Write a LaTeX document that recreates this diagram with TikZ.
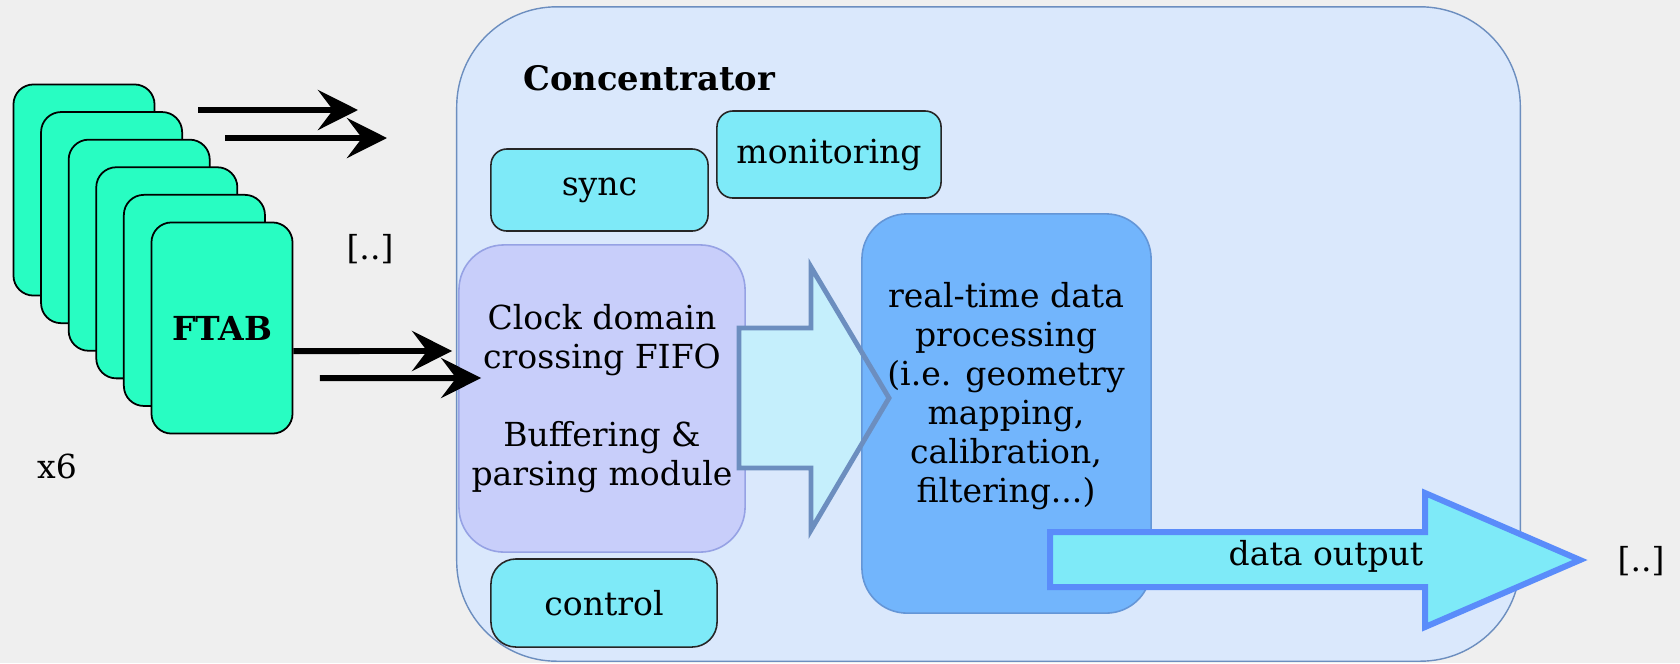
\documentclass[tikz,border=0pt]{standalone}
\usepackage{fontspec}
\setmainfont{DejaVu Serif}
\usetikzlibrary{arrows.meta}
\definecolor{bgcol}{RGB}{239,239,239}
\definecolor{ftabgreen}{RGB}{40,253,194}
\definecolor{concfill}{RGB}{218,232,252}
\definecolor{concline}{RGB}{108,142,191}
\definecolor{cyanbox}{RGB}{126,234,248}
\definecolor{lavfill}{RGB}{200,206,250}
\definecolor{lavline}{RGB}{150,162,228}
\definecolor{procfill}{RGB}{114,181,252}
\definecolor{procline}{RGB}{100,150,215}
\definecolor{pipefill}{RGB}{197,239,252}
\definecolor{outline}{RGB}{90,140,250}
\tikzset{
    every node/.style={font=\fontsize{9.4}{11}\selectfont, text=black}
}
\tikzset{
    card/.style={draw=black, line width=0.5pt, fill=ftabgreen,
        rounded corners=0.2cm, minimum width=1.41cm, minimum height=2.11cm},
    smallbox/.style={draw=black!85, line width=0.45pt, fill=cyanbox,
        rounded corners=0.16cm},
    bigarrow/.style={line width=1.7pt,
        -{Stealth[length=4mm, width=4mm, inset=1.5mm]}},
    multiline/.style={align=center, font=\fontsize{9.4}{11.1}\selectfont}
}
\newcommand{\pipepath}{(739,328) -- (811,328) -- (811,267) -- (889,398)
    -- (811,530) -- (811,468) -- (739,468) -- cycle}

\begin{document}
\begin{tikzpicture}[x=0.01cm, y=-0.01cm]
	\useasboundingbox (0,0) rectangle (1680,663);
	\fill[bgcol] (0,0) rectangle (1680,663);
	% FTAB boards
	\foreach \i in {1,...,6}
		\node (card\i) [card] at ({84+27.6*(\i-1)}, {190+27.6*(\i-1)}) {};
	\node (ftab) [font=\fontsize{9.4}{11}\selectfont\bfseries] at (card6) {FTAB};
	\node (times) at (57,466) {x6};
	\node (dots1) at (370,249) {[..]};
	\coordinate (u1s) at (198,110);
	\coordinate (u1e) at (358,110);
	\coordinate (u2s) at (225,138);
	\coordinate (u2e) at (387,138);
	\draw[bigarrow] (u1s) -- (u1e);
	\draw[bigarrow] (u2s) -- (u2e);
	% concentrator
	\node (conc) [draw=concline, line width=0.4pt, fill=concfill,
		rounded corners=1cm, minimum width=10.63cm, minimum height=6.54cm]
		at (988.5,334) {};
	\node (conctitle) [anchor=west, font=\fontsize{9.6}{11}\selectfont\bfseries]
		at (511,78) {Concentrator};
	\node (sync) [smallbox, minimum width=2.17cm, minimum height=0.82cm]
		at (599.5,190) {sync};
	\node (monitor) [smallbox, minimum width=2.24cm, minimum height=0.87cm]
		at (829,154.5) {monitoring};
	\node (control) [smallbox, rounded corners=0.25cm, minimum width=2.26cm,
		minimum height=0.88cm] at (604,603) {control};
	\node (clock) [draw=lavline, line width=0.45pt, fill=lavfill,
		rounded corners=0.45cm, minimum width=2.86cm, minimum height=3.07cm,
		multiline] at (602,398.5)
		{Clock domain\\crossing FIFO\\[0.39cm]Buffering \&\\parsing module};
	% links from the boards
	\draw[bigarrow] ([yshift=-0.23cm]card6.east) -- ([xshift=-0.06cm, yshift=0.475cm]clock.west);
	\draw[bigarrow] ([xshift=0.265cm, yshift=-0.5cm]card6.east) -- ([xshift=0.23cm, yshift=0.205cm]clock.west);
	% processing
	\fill[pipefill] \pipepath;
	\node (proc) [draw=procline, line width=0.45pt, fill=procfill,
		rounded corners=0.45cm, minimum width=2.89cm, minimum height=3.99cm]
		at (1006.5,413.5) {};
	\draw[concline, line width=1.4pt, line join=miter] \pipepath;
	\node (proctext) [multiline] at (1006,396)
		{real-time data\\processing\\(i.e. geometry\\mapping,\\calibration,\\filtering...)};
	% output
	\draw[outline, fill=cyanbox, line width=1.7pt, line join=miter]
		(1050,532) -- (1425,532) -- (1425,493) -- (1580,560) -- (1425,627)
		-- (1425,587) -- (1050,587) -- cycle;
	\node (dataout) at (1326,556) {data output};
	\node (dots2) at (1641,561) {[..]};
\end{tikzpicture}
\end{document}
